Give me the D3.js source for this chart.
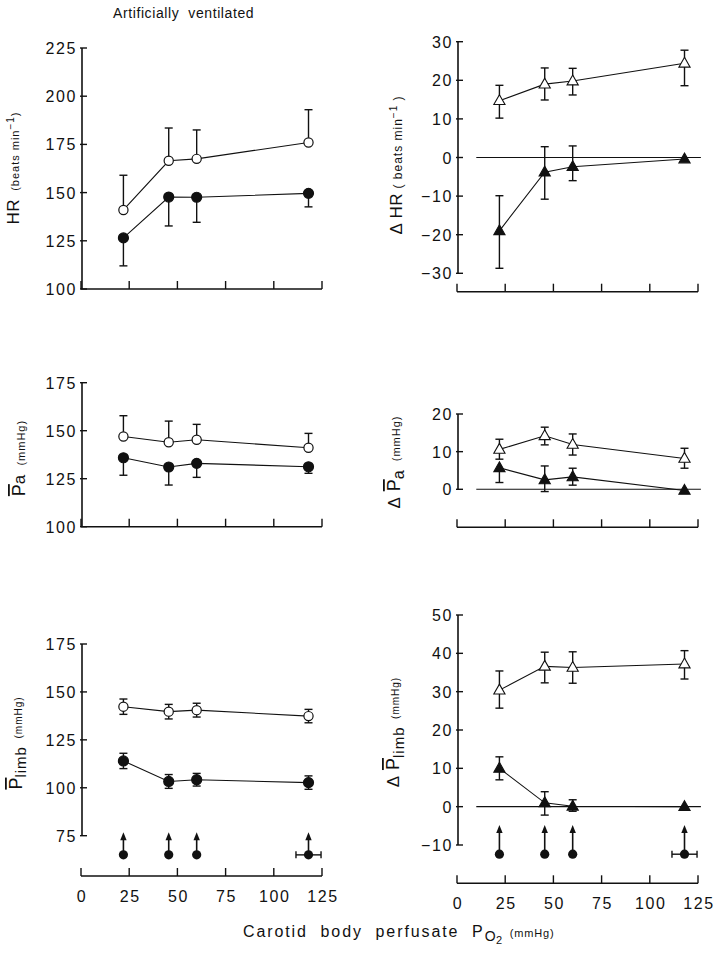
<!DOCTYPE html>
<html><head><meta charset="utf-8">
<script src="https://cdn.jsdelivr.net/npm/d3@7"></script>
<style>
body{margin:0;background:#fff}
text{font-family:"Liberation Sans",Arial,sans-serif;fill:#111;white-space:pre}
</style>
</head><body>
<svg id="c" width="720" height="956"></svg>
<script>
// ---------- data ----------
const po2 = [22, 45.5, 60, 118];
const po2Err = [0, 0, 0, 6.5];
const xTickVals = [0, 25, 50, 75, 100, 125];

const hrTicks = [100, 125, 150, 175, 200, 225];
const hrOpen = [141, 166.5, 167.5, 176];
const hrOpenUp = [18, 17, 15, 17];
const hrOpenDown = [0, 0, 0, 0];
const hrFilled = [126.5, 147.7, 147.6, 149.6];
const hrFilledUp = [0, 0, 0, 0];
const hrFilledDown = [14.5, 15, 13, 7];

const dhrTicks = [-30, -20, -10, 0, 10, 20, 30];
const dhrOpen = [14.7, 19.0, 19.8, 24.4];
const dhrOpenUp = [4, 4.2, 3.3, 3.4];
const dhrOpenDown = [4.5, 4.1, 3.6, 5.8];
const dhrFilled = [-19.0, -3.8, -2.4, -0.4];
const dhrFilledUp = [9.1, 6.6, 5.4, 0];
const dhrFilledDown = [9.7, 7.0, 3.6, 0];

const paTicks = [100, 125, 150, 175];
const paOpen = [147, 144, 145.3, 141.1];
const paOpenUp = [10.8, 11, 8, 7.5];
const paOpenDown = [0, 0, 0, 0];
const paFilled = [135.9, 131.1, 133, 131.2];
const paFilledUp = [0, 0, 0, 0];
const paFilledDown = [9.1, 9.4, 7.3, 3.4];

const dpaTicks = [0, 10, 20];
const dpaOpen = [10.6, 14.2, 11.9, 8.2];
const dpaOpenUp = [2.7, 2.3, 2.8, 2.7];
const dpaOpenDown = [2.6, 2.4, 2.8, 2.6];
const dpaFilled = [5.7, 2.5, 3.3, -0.3];
const dpaFilledUp = [0, 3.7, 2.3, 0];
const dpaFilledDown = [3.9, 3.1, 2.2, 0];

const plTicks = [75, 100, 125, 150, 175];
const plOpen = [142.3, 139.7, 140.5, 137.4];
const plOpenErr = [4, 3.8, 3.6, 3.5];
const plFilled = [114, 103.3, 104.2, 102.7];
const plFilledErr = [4, 3.6, 3.3, 3.5];
const plArrowBase = 65, plArrowTip = 76.8;

const dplTicks = [-10, 0, 10, 20, 30, 40, 50];
const dplOpen = [30.4, 36.6, 36.3, 37.2];
const dplOpenUp = [5, 3.7, 4.1, 3.5];
const dplOpenDown = [4.7, 4.3, 4.1, 3.9];
const dplFilled = [10.0, 1.0, 0.1, 0];
const dplFilledUp = [3, 2.9, 1.7, 0];
const dplFilledDown = [3, 3.2, 1.3, 0];
const dplArrowBase = -12.4, dplArrowTip = -4.8;

// ---------- drawing ----------
const svg = d3.select("#c");
const xLeft = d3.scaleLinear([0, 125], [81, 322]);
const xRight = d3.scaleLinear([0, 125], [457, 698]);

const tickFont = {size: 16, ls: 1.6};

function panel(o) {
  const g = svg.append("g");
  const x = o.x, y = d3.scaleLinear(o.domain, o.range);
  const ax = x(0) + 1;
  // y axis
  g.append("line").attr("x1", ax).attr("x2", ax)
    .attr("y1", y(o.ticks[o.ticks.length - 1])).attr("y2", y(o.ticks[0]))
    .attr("stroke", "#111").attr("stroke-width", 1.6);
  g.selectAll(".yt").data(o.ticks).join("line")
    .attr("x1", ax - 2).attr("x2", ax + 5)
    .attr("y1", d => y(d)).attr("y2", d => y(d))
    .attr("stroke", "#111").attr("stroke-width", 1.4);
  g.selectAll(".yl").data(o.ticks).join("text")
    .attr("x", ax - 5).attr("y", d => y(d) + 6)
    .attr("text-anchor", "end")
    .attr("font-size", tickFont.size).attr("letter-spacing", tickFont.ls)
    .text(d => d < 0 ? "\u2212" + Math.abs(d) : d);
  // x axis
  g.append("line").attr("x1", x(0)).attr("x2", x(125))
    .attr("y1", o.xAxisY).attr("y2", o.xAxisY)
    .attr("stroke", "#111").attr("stroke-width", 1.6);
  g.selectAll(".xt").data(xTickVals).join("line")
    .attr("x1", d => x(d)).attr("x2", d => x(d))
    .attr("y1", o.xAxisY).attr("y2", o.xAxisY - 8)
    .attr("stroke", "#111").attr("stroke-width", 1.4);
  if (o.xLabels) {
    g.selectAll(".xl").data(xTickVals).join("text")
      .attr("x", d => x(d) + 1).attr("y", o.xAxisY + 26)
      .attr("text-anchor", "middle")
      .attr("font-size", tickFont.size).attr("letter-spacing", tickFont.ls)
      .text(d => d);
  }
  // zero line
  if (o.zeroLine) {
    g.append("line").attr("x1", x(10)).attr("x2", x(126.5))
      .attr("y1", y(0)).attr("y2", y(0))
      .attr("stroke", "#111").attr("stroke-width", 1.1);
  }
  // bottom arrows with filled circles
  if (o.arrows) {
    const [b, t] = o.arrows;
    po2.forEach((v, i) => {
      const cx = x(v);
      g.append("line").attr("x1", cx).attr("x2", cx)
        .attr("y1", y(b)).attr("y2", y(t) + 5)
        .attr("stroke", "#111").attr("stroke-width", 1.6);
      g.append("path")
        .attr("d", `M${cx},${y(t)} L${cx + 3.2},${y(t) + 8} L${cx - 3.2},${y(t) + 8} Z`)
        .attr("fill", "#111");
      if (po2Err[i] > 0) {
        const x1 = x(v - po2Err[i]), x2 = x(v + po2Err[i]);
        g.append("line").attr("x1", x1).attr("x2", x2).attr("y1", y(b)).attr("y2", y(b))
          .attr("stroke", "#111").attr("stroke-width", 1.4);
        [x1, x2].forEach(xx => g.append("line").attr("x1", xx).attr("x2", xx)
          .attr("y1", y(b) - 3.5).attr("y2", y(b) + 3.5).attr("stroke", "#111").attr("stroke-width", 1.4));
      }
      g.append("circle").attr("cx", cx).attr("cy", y(b)).attr("r", 4.6).attr("fill", "#111");
    });
  }
  // series
  o.series.forEach(s => {
    const pts = po2.map((v, i) => ({x: x(v), y: y(s.vals[i]), up: s.up[i], dn: s.dn[i], v: s.vals[i]}));
    g.append("path").datum(pts)
      .attr("d", d3.line().x(d => d.x).y(d => d.y))
      .attr("fill", "none").attr("stroke", "#111").attr("stroke-width", 1.1);
    pts.forEach(p => {
      [[p.up, 1], [p.dn, -1]].forEach(([e, sgn]) => {
        if (e > 0) {
          const ye = y(p.v + sgn * e);
          g.append("line").attr("x1", p.x).attr("x2", p.x).attr("y1", p.y).attr("y2", ye)
            .attr("stroke", "#111").attr("stroke-width", 1.4);
          g.append("line").attr("x1", p.x - 4).attr("x2", p.x + 4).attr("y1", ye).attr("y2", ye)
            .attr("stroke", "#111").attr("stroke-width", 1.4);
        }
      });
    });
    pts.forEach(p => {
      if (s.shape === "circle") {
        g.append("circle").attr("cx", p.x).attr("cy", p.y).attr("r", s.filled ? 5 : 4.6)
          .attr("fill", s.filled ? "#111" : "#fff").attr("stroke", "#111").attr("stroke-width", 1.2);
      } else {
        const h = 6;
        g.append("path")
          .attr("d", `M${p.x},${p.y - h} L${p.x + 5.6},${p.y + 3.8} L${p.x - 5.6},${p.y + 3.8} Z`)
          .attr("fill", s.filled ? "#111" : "#fff").attr("stroke", "#111").attr("stroke-width", 1.1);
      }
    });
  });
  // y label
  const t = svg.append("text")
    .attr("transform", `translate(${o.label.x},${o.label.y}) rotate(-90)`)
    .attr("text-anchor", "middle");
  o.label.parts.forEach(pt => {
    const ts = t.append("tspan").text(pt.t).attr("font-size", pt.s)
      .attr("letter-spacing", pt.ls !== undefined ? pt.ls : 1);
    if (pt.dy) ts.attr("dy", pt.dy);
    if (pt.over) ts.style("text-decoration", "overline");
  });
}

// top-left: HR
panel({x: xLeft, domain: [100, 225], range: [289, 48], ticks: hrTicks, xAxisY: 289,
  series: [
    {vals: hrOpen, up: hrOpenUp, dn: hrOpenDown, shape: "circle", filled: false},
    {vals: hrFilled, up: hrFilledUp, dn: hrFilledDown, shape: "circle", filled: true}],
  label: {x: 19, y: 168, parts: [{t: "HR", s: 17, ls: 0.5}, {t: "  (beats min", s: 11}, {t: "\u22121", s: 10, dy: -5}, {t: ")", s: 11, dy: 5}]}});

// top-right: ΔHR
panel({x: xRight, domain: [-30, 30], range: [273.3, 41.7], ticks: dhrTicks, xAxisY: 291.7, zeroLine: true,
  series: [
    {vals: dhrOpen, up: dhrOpenUp, dn: dhrOpenDown, shape: "tri", filled: false},
    {vals: dhrFilled, up: dhrFilledUp, dn: dhrFilledDown, shape: "tri", filled: true}],
  label: {x: 402, y: 165, parts: [{t: "\u0394 HR", s: 17, ls: 0.5}, {t: " ( beats min", s: 12}, {t: "\u22121", s: 10, dy: -5}, {t: " )", s: 12, dy: 5}]}});

// middle-left: Pa
panel({x: xLeft, domain: [100, 175], range: [526.7, 382.7], ticks: paTicks, xAxisY: 526.7,
  series: [
    {vals: paOpen, up: paOpenUp, dn: paOpenDown, shape: "circle", filled: false},
    {vals: paFilled, up: paFilledUp, dn: paFilledDown, shape: "circle", filled: true}],
  label: {x: 25, y: 458, parts: [{t: "P", s: 18, over: true, ls: 0}, {t: "a", s: 17}, {t: "  (mmHg)", s: 11}]}});

// middle-right: ΔPa
panel({x: xRight, domain: [0, 20], range: [489.3, 414], ticks: dpaTicks, xAxisY: 527.3, zeroLine: true,
  series: [
    {vals: dpaOpen, up: dpaOpenUp, dn: dpaOpenDown, shape: "tri", filled: false},
    {vals: dpaFilled, up: dpaFilledUp, dn: dpaFilledDown, shape: "tri", filled: true}],
  label: {x: 400, y: 462, parts: [{t: "\u0394 ", s: 17}, {t: "P", s: 18, over: true, ls: 0}, {t: "a", s: 16, dy: 4}, {t: "  (mmHg)", s: 11, dy: -4}]}});

// bottom-left: Plimb
panel({x: xLeft, domain: [75, 175], range: [835.7, 644], ticks: plTicks, xAxisY: 876, xLabels: true,
  arrows: [plArrowBase, plArrowTip],
  series: [
    {vals: plOpen, up: plOpenErr, dn: plOpenErr, shape: "circle", filled: false},
    {vals: plFilled, up: plFilledErr, dn: plFilledErr, shape: "circle", filled: true}],
  label: {x: 22, y: 743, parts: [{t: "P", s: 18, over: true, ls: 0}, {t: "limb", s: 15, dy: 4}, {t: "  (mmHg)", s: 10, dy: -4}]}});

// bottom-right: ΔPlimb
panel({x: xRight, domain: [-10, 50], range: [845, 615], ticks: dplTicks, xAxisY: 883.3, xLabels: true, zeroLine: true,
  arrows: [dplArrowBase, dplArrowTip],
  series: [
    {vals: dplOpen, up: dplOpenUp, dn: dplOpenDown, shape: "tri", filled: false},
    {vals: dplFilled, up: dplFilledUp, dn: dplFilledDown, shape: "tri", filled: true}],
  label: {x: 399, y: 732, parts: [{t: "\u0394 ", s: 17}, {t: "P", s: 18, over: true, ls: 0}, {t: "limb", s: 15, dy: 5}, {t: "  (mmHg)", s: 10, dy: -5}]}});

// title
svg.append("text").attr("x", 113).attr("y", 18).attr("font-size", 14).attr("letter-spacing", 0.6)
  .text("Artificially  ventilated");

// x axis title
const xt = svg.append("text").attr("x", 243).attr("y", 937);
xt.append("tspan").text("Carotid  body  perfusate  P").attr("font-size", 16).attr("letter-spacing", 1.9);
xt.append("tspan").text("O").attr("font-size", 14).attr("dy", 4).attr("letter-spacing", 0.5);
xt.append("tspan").text("2").attr("font-size", 11).attr("dy", 3);
xt.append("tspan").text("  (mmHg)").attr("font-size", 11).attr("dy", -7).attr("letter-spacing", 0.8);
</script>
</body></html>
